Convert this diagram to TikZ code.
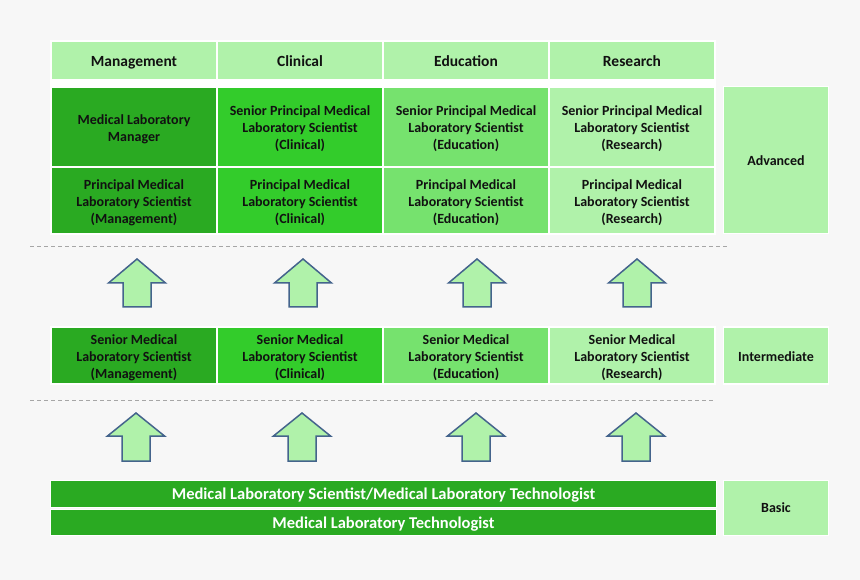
\documentclass[tikz,border=0pt]{standalone}
\usepackage{fontspec}
\setmainfont{Carlito}
\definecolor{bg}{HTML}{F7F7F7}
\definecolor{gMan}{HTML}{2AAA22}
\definecolor{gCli}{HTML}{33CC2B}
\definecolor{gEdu}{HTML}{76E26E}
\definecolor{gRes}{HTML}{B0F2AA}
\definecolor{arrowline}{HTML}{44648C}
\definecolor{dashgrey}{HTML}{A6A6A6}
\definecolor{txt}{HTML}{111111}
\newcommand\cl[2][2.5pt]{\raisebox{-#1}[\height][\depth]{\begin{tabular}{@{}c@{}}#2\end{tabular}}}
\begin{document}
\begin{tikzpicture}[x=1pt,y=-1pt,
  cellbox/.style={draw=white, line width=1.5pt, inner sep=0pt, align=center,
    font=\fontsize{14}{17}\selectfont\bfseries, text=txt, minimum width=166pt},
  headbox/.style={cellbox, fill=gRes, font=\fontsize{15.5}{17}\selectfont\bfseries, minimum height=39pt},
  sidebox/.style={cellbox, fill=gRes, minimum width=105pt},
  barbox/.style={cellbox, fill=gMan, text=white, minimum width=666pt,
    font=\fontsize{16.5}{18}\selectfont\bfseries},
  uparrow/.style={draw=arrowline, line width=1.5pt, fill=gRes, line join=miter},
  sepline/.style={draw=dashgrey, line width=1pt, dash pattern=on 4pt off 3pt}]
\fill[bg] (0,0) rectangle (860,580);
\useasboundingbox (0,0) rectangle (860,580);

% headers
\node[headbox] (hman) at (134,60.5) {\cl[2.8pt]{Management}};
\node[headbox] (hcli) at (300,60.5) {\cl[2.8pt]{Clinical}};
\node[headbox] (hedu) at (466,60.5) {\cl[2.8pt]{Education}};
\node[headbox] (hres) at (632,60.5) {\cl[2.8pt]{Research}};
\fill[white] (50,79.5) rectangle (716,88);

% advanced row 1
\node[cellbox, fill=gMan, minimum height=80pt] (a1man) at (134,127) {\cl{Medical Laboratory\\Manager}};
\node[cellbox, fill=gCli, minimum height=80pt] (a1cli) at (300,127) {\cl{Senior Principal Medical\\Laboratory Scientist\\(Clinical)}};
\node[cellbox, fill=gEdu, minimum height=80pt] (a1edu) at (466,127) {\cl{Senior Principal Medical\\Laboratory Scientist\\(Education)}};
\node[cellbox, fill=gRes, minimum height=80pt] (a1res) at (632,127) {\cl{Senior Principal Medical\\Laboratory Scientist\\(Research)}};
% advanced row 2
\node[cellbox, fill=gMan, minimum height=67pt] (a2man) at (134,200.5) {\cl{Principal Medical\\Laboratory Scientist\\(Management)}};
\node[cellbox, fill=gCli, minimum height=67pt] (a2cli) at (300,200.5) {\cl{Principal Medical\\Laboratory Scientist\\(Clinical)}};
\node[cellbox, fill=gEdu, minimum height=67pt] (a2edu) at (466,200.5) {\cl{Principal Medical\\Laboratory Scientist\\(Education)}};
\node[cellbox, fill=gRes, minimum height=67pt] (a2res) at (632,200.5) {\cl{Principal Medical\\Laboratory Scientist\\(Research)}};
\node[sidebox, minimum height=147pt] (ladv) at (776,160) {\cl[2.2pt]{Advanced}};

\draw[sepline] (30,247) -- (728,247);

% arrows set 1
\foreach \cx in {137,303,477,637}{
  \draw[uparrow] (\cx,259) -- (\cx+28.5,283) -- (\cx+14,283) -- (\cx+14,307)
    -- (\cx-14,307) -- (\cx-14,283) -- (\cx-28.5,283) -- cycle;
}

% intermediate
\node[cellbox, fill=gMan, minimum height=57pt] (iman) at (134,355.5) {\cl{Senior Medical\\Laboratory Scientist\\(Management)}};
\node[cellbox, fill=gCli, minimum height=57pt] (icli) at (300,355.5) {\cl{Senior Medical\\Laboratory Scientist\\(Clinical)}};
\node[cellbox, fill=gEdu, minimum height=57pt] (iedu) at (466,355.5) {\cl{Senior Medical\\Laboratory Scientist\\(Education)}};
\node[cellbox, fill=gRes, minimum height=57pt] (ires) at (632,355.5) {\cl{Senior Medical\\Laboratory Scientist\\(Research)}};
\node[sidebox, minimum height=57pt] (lint) at (776,355.5) {\cl[3pt]{Intermediate}};

\draw[sepline] (30,400) -- (714,400);

% arrows set 2
\foreach \cx in {136,302,476,636}{
  \draw[uparrow] (\cx,413) -- (\cx+28.5,436) -- (\cx+14,436) -- (\cx+14,461)
    -- (\cx-14,461) -- (\cx-14,436) -- (\cx-28.5,436) -- cycle;
}

% basic
\node[barbox, minimum height=27pt] (b1) at (383.5,494) {\cl[2pt]{Medical Laboratory Scientist/Medical Laboratory Technologist}};
\node[barbox, minimum height=26pt] (b2) at (383.5,522.5) {\cl[2pt]{Medical Laboratory Technologist}};
\node[sidebox, minimum height=55pt] (lbas) at (776,508) {\cl[1.5pt]{Basic}};
\end{tikzpicture}
\end{document}
